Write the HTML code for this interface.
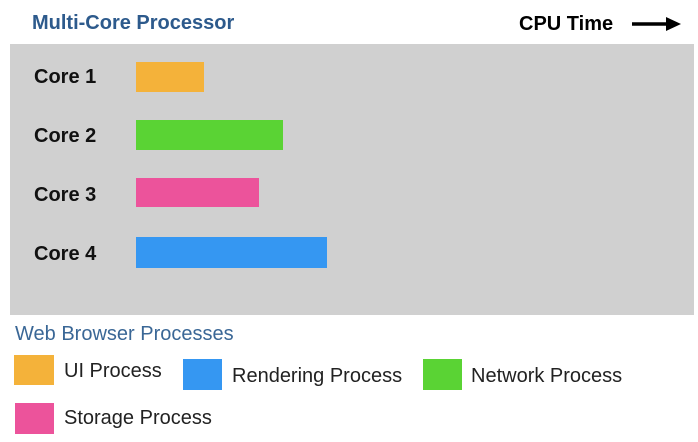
<!DOCTYPE html>
<html><head><style>
body{margin:0;width:698px;height:442px;background:#fff;position:relative;overflow:hidden;font-family:"Liberation Sans",sans-serif}
div{position:absolute}
.t{white-space:nowrap;line-height:1}
.c{font-weight:bold;font-size:20px;color:#111;left:34px}
.l{font-size:20px;color:#222}
</style></head><body>
<div class="t" style="left:32px;top:13px;font-size:20px;font-weight:bold;color:#2d5a8c">Multi-Core Processor</div>
<div class="t" style="left:519px;top:14px;font-size:20px;font-weight:bold;color:#000">CPU Time</div>
<svg style="position:absolute;left:630px;top:16px" width="52" height="16"><line x1="2" y1="8" x2="38" y2="8" stroke="#000" stroke-width="3.5"/><polygon points="36,1 51,8 36,15" fill="#000"/></svg>
<div style="left:10px;top:44px;width:684px;height:271px;background:#d0d0d0"></div>
<div class="t c" style="top:67px">Core 1</div>
<div class="t c" style="top:126px">Core 2</div>
<div class="t c" style="top:185px">Core 3</div>
<div class="t c" style="top:244px">Core 4</div>
<div style="left:136px;top:62px;width:68px;height:30px;background:#f4b23a"></div>
<div style="left:136px;top:120px;width:147px;height:30px;background:#5ad334"></div>
<div style="left:136px;top:178px;width:123px;height:29px;background:#ec539b"></div>
<div style="left:136px;top:237px;width:191px;height:31px;background:#3597f2"></div>
<div class="t" style="left:15px;top:324px;font-size:20px;color:#3a6796">Web Browser Processes</div>
<div style="left:14px;top:355px;width:40px;height:30px;background:#f4b23a"></div>
<div class="t l" style="left:64px;top:361px">UI Process</div>
<div style="left:183px;top:359px;width:39px;height:31px;background:#3597f2"></div>
<div class="t l" style="left:232px;top:366px">Rendering Process</div>
<div style="left:423px;top:359px;width:39px;height:31px;background:#5ad334"></div>
<div class="t l" style="left:471px;top:366px">Network Process</div>
<div style="left:15px;top:403px;width:39px;height:31px;background:#ec539b"></div>
<div class="t l" style="left:64px;top:408px">Storage Process</div>
</body></html>
